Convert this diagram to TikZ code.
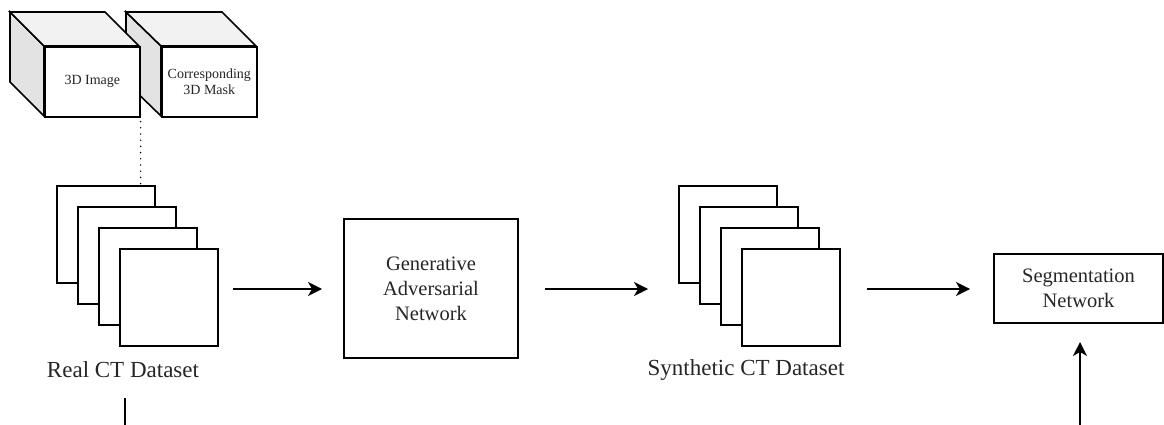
\documentclass[tikz,border=0pt]{standalone}
\usepackage{fontspec}
\setmainfont{Liberation Serif}
\usetikzlibrary{arrows.meta}
\tikzset{
  edge/.style={line width=1.6pt, draw=black},
  flow/.style={edge, -{Stealth[length=14pt,width=14pt,inset=4pt]}},
  slice/.style={edge, fill=white, minimum width=98pt, minimum height=97pt, inner sep=0pt, anchor=north west},
  facefront/.style={edge, fill=white, minimum width=95pt, minimum height=70pt, inner sep=0pt, anchor=north west, align=center, text=black!85, font=\fontsize{14}{16}\selectfont},
  facetop/.style={edge, fill=black!5, line join=miter},
  faceside/.style={edge, fill=black!11, line join=miter},
  block/.style={edge, fill=white, inner sep=0pt, align=center, text=black!85, font=\fontsize{20.5}{25}\selectfont},
  caption/.style={font=\fontsize{23}{26}\selectfont, text=black!85, inner sep=0pt},
  link/.style={line width=1.6pt, line cap=round, dash pattern=on 0pt off 6.2pt}
}
\begin{document}
\begin{tikzpicture}[x=1pt,y=-1pt]
\useasboundingbox (0,0) rectangle (1164,425);

% second cube (drawn first, partly hidden by the first)
\draw[faceside] (126,12) -- (161,46) -- (161,116) -- (126,82) -- cycle;
\draw[facetop] (126,12) -- (222,12) -- (256,46) -- (161,46) -- cycle;
\node[facefront] (mask) at (161,46) {Corresponding\\3D Mask};

% first cube
\draw[faceside] (10,12) -- (44,46) -- (44,116) -- (10,82) -- cycle;
\draw[facetop] (10,12) -- (105,12) -- (139,46) -- (44,46) -- cycle;
\node[facefront] (img) at (44,46) {3D Image};

% real CT stack
\node[slice] (r1) at (56,185) {};
\node[slice] (r2) at (77,206) {};
\node[slice] (r3) at (98,227) {};
\node[slice] (r4) at (119,248) {};
\node[caption] (rlab) at (123,370) {Real CT Dataset};

\draw[link] ([yshift=-4pt]img.south east) -- (img.south east |- r1.north);

% generative network
\node[block, minimum width=174pt, minimum height=139pt] (gan) at (431,288.5) {Generative\\Adversarial\\Network};

% synthetic CT stack
\node[slice] (s1) at (678,185) {};
\node[slice] (s2) at (699,206) {};
\node[slice] (s3) at (720,227) {};
\node[slice] (s4) at (741,248) {};
\node[caption] (slab) at (746,370) {Synthetic CT Dataset};

% segmentation network
\node[block, minimum width=169pt, minimum height=69pt] (seg) at (1078.5,288.5) {Segmentation\\Network};

% connectors
\coordinate (a1) at (233,289);
\coordinate (b1) at (322,289);
\coordinate (a2) at (545,289);
\coordinate (b2) at (648,289);
\coordinate (a3) at (867,289);
\coordinate (b3) at (970,289);
\coordinate (up0) at (1080,425);
\coordinate (up1) at (1080,342);
\coordinate (down0) at (125,398);
\coordinate (down1) at (125,425);

\draw[flow] (a1) -- (b1);
\draw[flow] (a2) -- (b2);
\draw[flow] (a3) -- (b3);
\draw[flow] (up0) -- (up1);
\draw[edge] (down0) -- (down1);
\end{tikzpicture}
\end{document}
